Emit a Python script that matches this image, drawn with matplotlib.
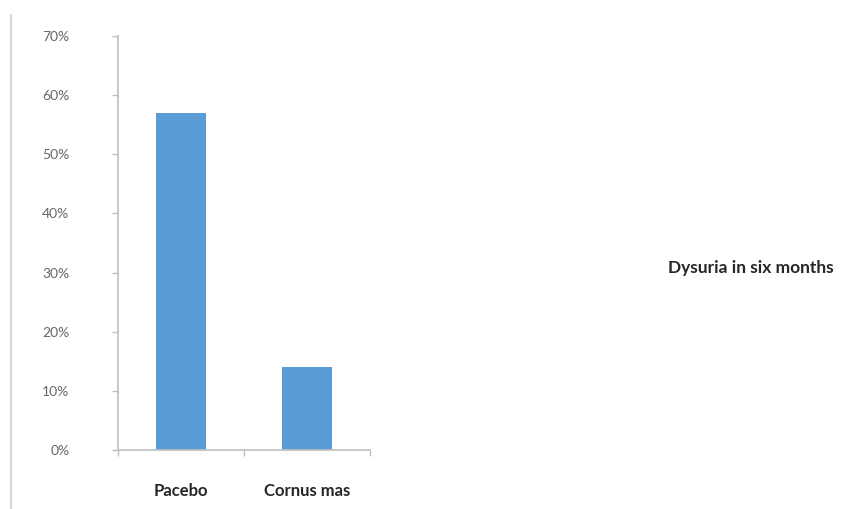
import matplotlib
matplotlib.use("Agg")
import matplotlib.pyplot as plt
from matplotlib.lines import Line2D
from matplotlib.ticker import FixedLocator, PercentFormatter

categories = ["Pacebo", "Cornus mas"]
dysuria_pct = [57, 14]
y_ticks = [0, 10, 20, 30, 40, 50, 60, 70]
series_name = "Dysuria in six months"

plt.rcParams["font.family"] = ["Lato", "DejaVu Sans"]

W, H = 855, 509
fig = plt.figure(figsize=(W / 100, H / 100), dpi=100)
fig.patch.set_facecolor("white")

ax = fig.add_axes([118 / W, 1 - 450 / H, (370 - 118) / W, (450 - 36) / H])
x = list(range(len(categories)))
ax.bar(x, dysuria_pct, width=0.39, color="#5B9BD5", zorder=2)

ax.set_xlim(-0.5, len(categories) - 0.5)
ax.set_ylim(0, 70)

axis_grey = "#BFBFBF"
for side in ("top", "right"):
    ax.spines[side].set_visible(False)
for side in ("left", "bottom"):
    ax.spines[side].set_color(axis_grey)
    ax.spines[side].set_linewidth(1.2)

ax.yaxis.set_major_locator(FixedLocator(y_ticks))
ax.yaxis.set_major_formatter(PercentFormatter(decimals=0))
ax.tick_params(axis="y", length=4, width=1, color=axis_grey, pad=31,
               labelsize=10, labelcolor="#666666")

# category boundaries carry the tick marks, names sit centred below the bars
ax.xaxis.set_major_locator(FixedLocator([i - 0.5 for i in range(len(categories) + 1)]))
ax.xaxis.set_major_formatter(plt.NullFormatter())
ax.tick_params(axis="x", which="major", length=4, width=1, color=axis_grey)
ax.xaxis.set_minor_locator(FixedLocator(x))
ax.set_xticks(x, categories, minor=True)
ax.tick_params(axis="x", which="minor", length=0, pad=24, labelsize=12,
               labelcolor="#262626")
for lbl in ax.get_xticklabels(minor=True):
    lbl.set_fontweight("bold")

fig.text(668 / W, 1 - 268 / H, series_name, ha="left", va="center",
         fontsize=12.5, fontweight="bold", color="#262626")

# thin frame line at the left edge of the chart area
fig.add_artist(Line2D([11 / W, 11 / W], [0, 1 - 15 / H], transform=fig.transFigure,
                      color="#D9D9D9", linewidth=1.5))

fig.savefig("out.png", dpi=100, facecolor="white")
